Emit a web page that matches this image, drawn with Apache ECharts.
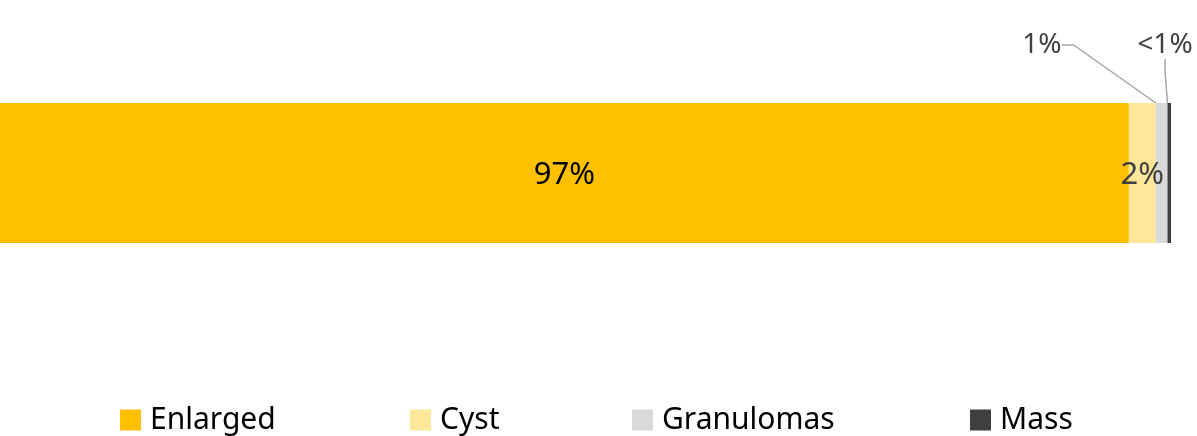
<!DOCTYPE html>
<html>
<head>
<meta charset="utf-8">
<title>Findings</title>
<script src="https://cdn.jsdelivr.net/npm/echarts@6/dist/echarts.min.js"></script>
<style>
  html, body { margin: 0; padding: 0; background: #fff; }
  #chart { width: 1197px; height: 436px; }
</style>
</head>
<body>
<div id="chart"></div>
<script>
// 类别与占比
const categories = ['Enlarged', 'Cyst', 'Granulomas', 'Mass']
const shares = [96.4, 2.3, 1.0, 0.3]
const shareLabels = ['97%', '2%', '1%', '<1%']
const barName = ['Findings']

const colors = ['#FFC000', '#FFE699', '#D9D9D9', '#404040']
const font = '"Noto Sans", "Open Sans", sans-serif'

let mychart = echarts.init(document.getElementById('chart'))

// 每个图例单独放置
const legendLeft = [120, 410, 632, 970]
const legends = categories.map((name, i) => ({
  data: [name],
  left: legendLeft[i],
  top: 405,
  padding: 0,
  icon: 'rect',
  itemWidth: 21,
  itemHeight: 21,
  selectedMode: false,
  textStyle: { fontFamily: font, fontSize: 30, color: '#000', padding: [0, 0, 0, 4] }
}))

// 小份额的标签放到上方，带引导线
const outsideLabel = {
  2: { x: 1042, y: 45 },
  3: { x: 1165, y: 45 }
}

const series = categories.map((name, i) => {
  const s = {
    name: name,
    type: 'bar',
    stack: 'total',
    barWidth: 140,
    data: [shares[i]],
    itemStyle: { color: colors[i] },
    label: {
      show: true,
      position: 'inside',
      offset: [0, 2],
      formatter: () => shareLabels[i],
      fontFamily: font,
      fontSize: 31,
      color: i === 0 ? '#000' : '#404040'
    },
    emphasis: { disabled: true }
  }
  if (outsideLabel[i]) {
    s.label.position = 'top'
    s.label.offset = [0, 0]
    s.label.fontSize = 28
    s.label.padding = [6, 8]
    s.labelLayout = {
      x: outsideLabel[i].x,
      y: outsideLabel[i].y,
      align: 'center',
      verticalAlign: 'middle'
    }
    s.labelLine = {
      show: true,
      length2: 12,
      lineStyle: { color: '#A6A6A6', width: 1.5 }
    }
  }
  return s
})

mychart.setOption({
  animation: false,
  legend: legends,
  grid: { left: 0, right: 26, top: 103, height: 140 },
  xAxis: { type: 'value', min: 0, max: 100, show: false },
  yAxis: { type: 'category', data: barName, show: false },
  series: series
})
</script>
</body>
</html>
